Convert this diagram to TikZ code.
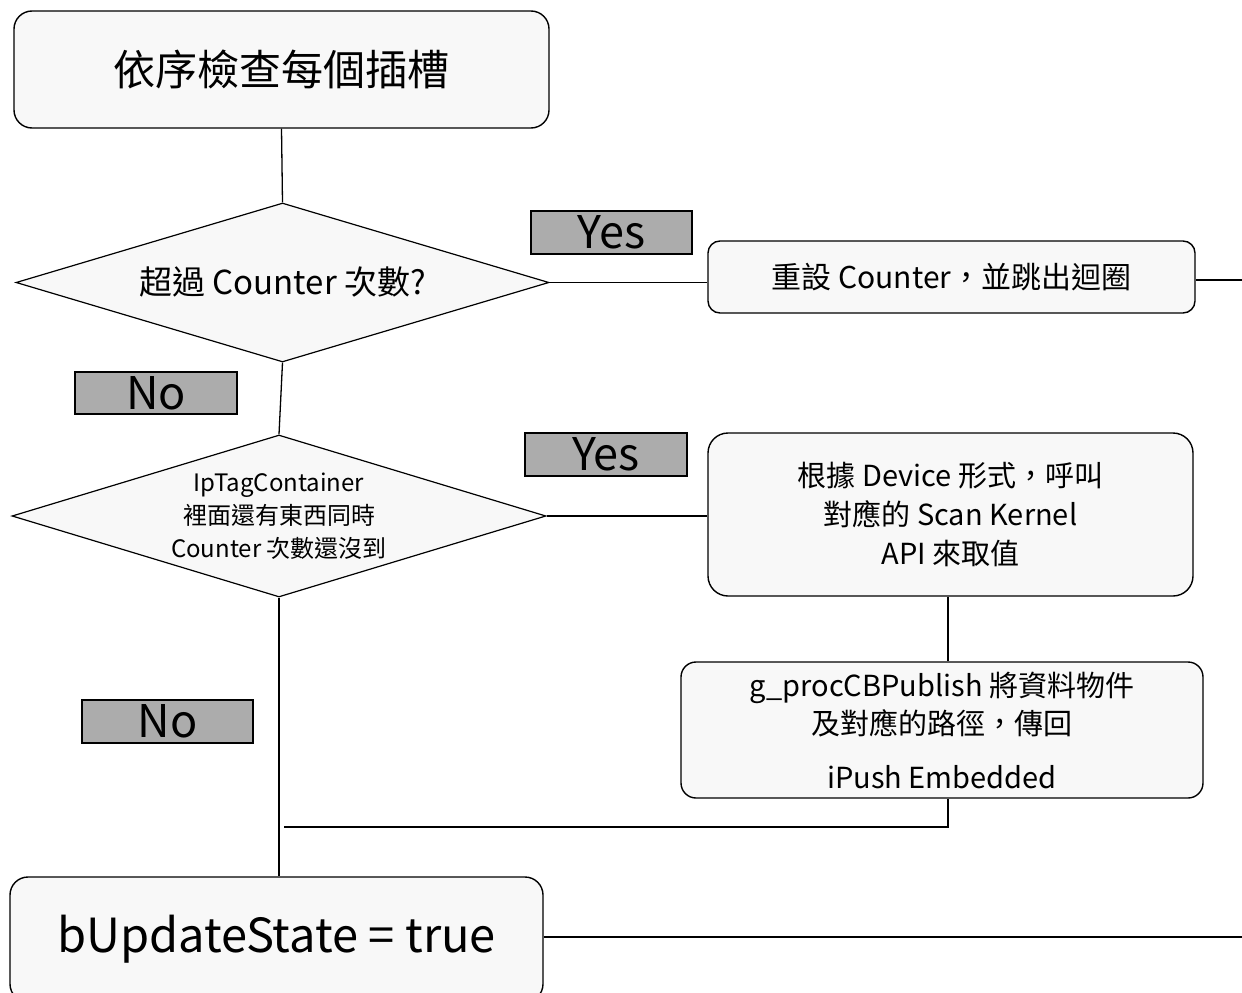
\documentclass[tikz,border=0pt]{standalone}
\usepackage{fontspec}
\setmainfont{Noto Sans CJK TC}
\usetikzlibrary{shapes.geometric}
\definecolor{boxfill}{RGB}{248,248,248}
\definecolor{lblfill}{RGB}{172,172,172}
\tikzset{
  proc/.style={draw=black, line width=1.4pt, fill=boxfill, rounded corners=#1, align=center, inner sep=0pt},
  proc/.default=15pt,
  dia/.style={draw=black, line width=1.2pt, fill=boxfill, diamond, inner sep=0pt},
  lbl/.style={draw=black, line width=1.2pt, fill=lblfill, inner sep=0pt, font=\fontsize{45}{45}\selectfont},
  conn/.style={draw=black, line width=1.3pt},
}
\begin{document}
\begin{tikzpicture}[x=1pt,y=-1pt]
\useasboundingbox (0,0) rectangle (1242,993);
% top box
\node[proc=18pt, minimum width=535pt, minimum height=117pt, font=\fontsize{42}{42}\selectfont] (b1) at (281.5,69.5) {依序檢查每個插槽};
% diamond 1
\node[dia, minimum width=533pt, minimum height=159pt,
  label={[font=\fontsize{33}{33}\selectfont]center:超過 Counter 次數?}] (d1) at (282.5,282.5) {};
% box 2
\node[proc=12pt, minimum width=487pt, minimum height=72pt, font=\fontsize{30}{30}\selectfont] (b2) at (951.5,277) {重設 Counter，並跳出迴圈};
\coordinate (e1) at (1242,280);
% yes 1
\node[lbl, minimum width=161pt, minimum height=43pt] (y1) at (611.5,232.5) {Yes};
% no 1
\node[lbl, minimum width=162pt, minimum height=42pt] (n1) at (156,393) {No};
% diamond 2
\node[dia, minimum width=534pt, minimum height=162pt,
  label={[font=\fontsize{24}{33}\selectfont, align=center]center:IpTagContainer\\ 裡面還有東西同時\\Counter 次數還沒到}] (d2) at (279,516) {};
% yes 2
\node[lbl, minimum width=162pt, minimum height=43pt] (y2) at (606,454.5) {Yes};
% box 3
\node[proc=20pt, minimum width=485pt, minimum height=163pt, font=\fontsize{29}{39}\selectfont] (b3) at (950.5,514.5) {根據 Device 形式，呼叫\\對應的 Scan Kernel\\API 來取值};
% box 4
\node[proc=15pt, minimum width=522pt, minimum height=136pt] (b4) at (942,730) {};
\node[font=\fontsize{29}{29}\selectfont] (t4a) at (942,688) {g\_procCBPublish 將資料物件};
\node[font=\fontsize{29}{29}\selectfont] (t4b) at (942,723) {及對應的路徑，傳回};
\node[font=\fontsize{29}{29}\selectfont] (t4c) at (942,777) {iPush Embedded};
% no 2
\node[lbl, minimum width=171pt, minimum height=43pt] (n2) at (167.5,721.5) {No};
% box 5
\node[proc=18pt, minimum width=533pt, minimum height=125pt, font=\fontsize{47}{47}\selectfont] (b5) at (276.5,939.5) {bUpdateState = true};
\coordinate (e2) at (1242,937);
\coordinate (j1) at (948,827);
\coordinate (j2) at (284,827);
% connectors
\draw[conn] (b1.south) -- (d1.north);
\draw[conn] (d1.east) -- (d1.east -| b2.west);
\draw[conn] (b2.east |- e1) -- (e1);
\draw[conn] (d1.south) -- (d2.north);
\draw[conn] (d2.east) -- (d2.east -| b3.west);
\draw[conn] (b3.south -| j1) -- (b4.north -| j1);
\draw[conn] (b4.south -| j1) -- (j1) -- (j2);
\draw[conn] (d2.south) -- (b5.north -| d2.south);
\draw[conn] (b5.east |- e2) -- (e2);
\end{tikzpicture}
\end{document}
